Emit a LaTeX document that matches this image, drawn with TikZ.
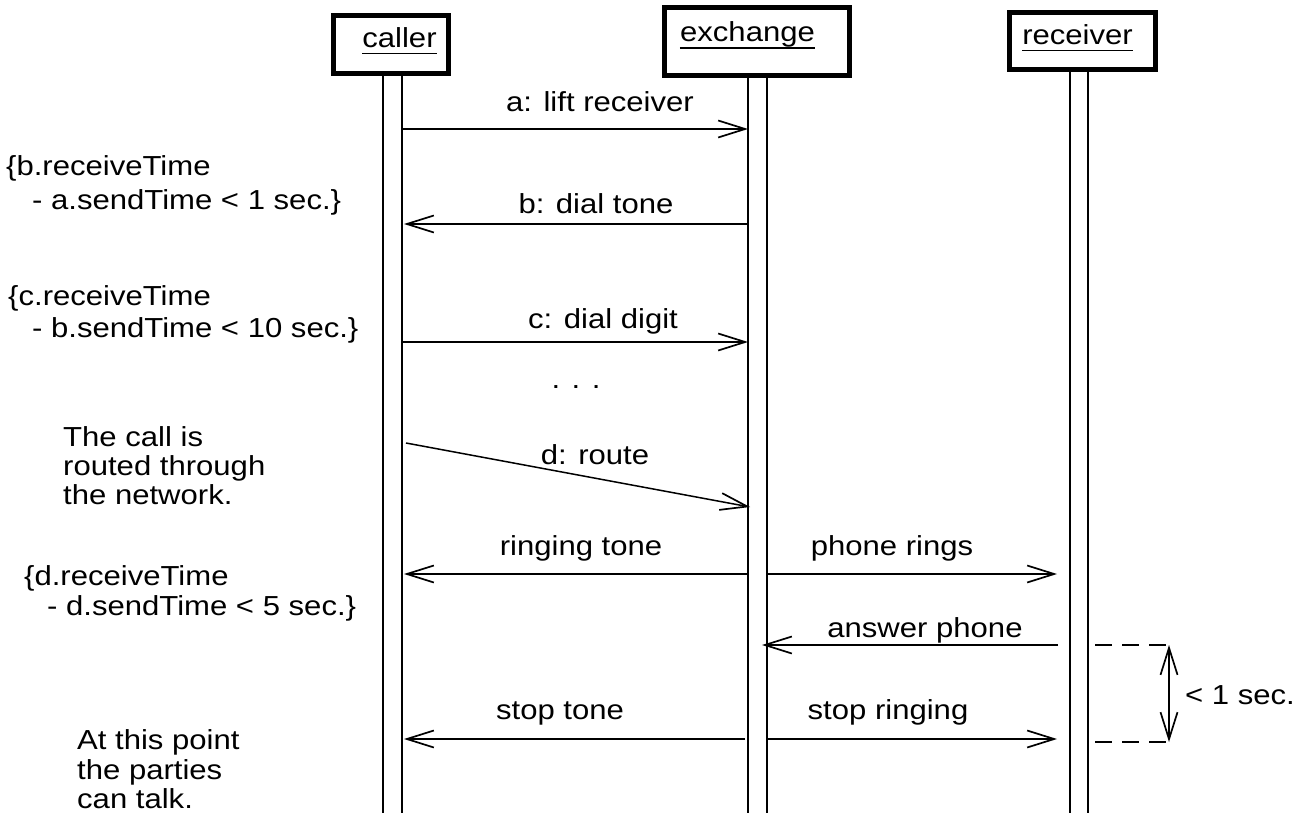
\documentclass[tikz,border=0pt]{standalone}
\usepackage{fontspec}
\setmainfont{Liberation Sans}[FakeStretch=1.13]
\usetikzlibrary{arrows.meta}
\begin{document}
\begin{tikzpicture}[x=1pt,y=-1pt,
  every node/.style={inner sep=0pt, font=\fontsize{27.5}{30}\selectfont},
  objbox/.style={draw, line width=5pt, inner sep=0pt},
  life/.style={line width=2.8pt},
  barb/.tip={Straight Barb[length=27pt,width=17pt,line width=1.7pt]},
  msg/.style={line width=2.4pt, -barb},
  lbl/.style={anchor=base},
  note/.style={anchor=base west},
  dashline/.style={line width=2pt, dash pattern=on 17pt off 10pt},
  uline/.style={line width=1.8pt}
]
\useasboundingbox (0,0) rectangle (1311,813);

% object boxes
\node[objbox, minimum width=115pt, minimum height=58pt] (callerbox) at (391,44.5) {};
\node[objbox, minimum width=185pt, minimum height=68pt] (exchbox) at (757,41.5) {};
\node[objbox, minimum width=146pt, minimum height=57pt] (recvbox) at (1082.5,41) {};

\node[lbl] (tcaller) at (399.5,48) {caller};
\node[lbl] (texch) at (747.5,42) {exchange};
\node[lbl] (trecv) at (1077.5,45) {receiver};
\draw[uline] ([yshift=-5.5pt]tcaller.base west) -- ([yshift=-5.5pt]tcaller.base east);
\draw[uline] ([yshift=-6pt]texch.base west) -- ([yshift=-6pt]texch.base east);
\draw[uline] ([yshift=-5.5pt]trecv.base west) -- ([yshift=-5.5pt]trecv.base east);

% lifelines
\coordinate (cL1) at (383,76);  \coordinate (cL2) at (383,813);
\coordinate (cR1) at (402,76);  \coordinate (cR2) at (402,813);
\coordinate (eL1) at (748,78);  \coordinate (eL2) at (748,813);
\coordinate (eR1) at (767,78);  \coordinate (eR2) at (767,813);
\coordinate (rL1) at (1070,72); \coordinate (rL2) at (1070,813);
\coordinate (rR1) at (1088,72); \coordinate (rR2) at (1088,813);
\draw[life] (cL1) -- (cL2);
\draw[life] (cR1) -- (cR2);
\draw[life] (eL1) -- (eL2);
\draw[life] (eR1) -- (eR2);
\draw[life] (rL1) -- (rL2);
\draw[life] (rR1) -- (rR2);

% messages
\coordinate (a1) at (403,129);  \coordinate (a2) at (748,129);
\draw[msg] (a1) -- (a2);
\node[lbl] (la) at (600,112) {a: lift receiver};

\coordinate (b1) at (747,224);  \coordinate (b2) at (404,224);
\draw[msg] (b1) -- (b2);
\node[lbl] (lb) at (596,214) {b: dial tone};

\coordinate (c1) at (403,342);  \coordinate (c2) at (748,342);
\draw[msg] (c1) -- (c2);
\node[lbl] (lc) at (603,328) {c: dial digit};

\node[lbl] (dots) at (576,388) {. . .};

\coordinate (d1) at (406,443);  \coordinate (d2) at (750,507);
\draw[msg, line width=1.5pt] (d1) -- (d2);
\node[lbl] (ld) at (595,464) {d: route};

\coordinate (r1) at (747,574);  \coordinate (r2) at (404,574);
\draw[msg] (r1) -- (r2);
\node[lbl] (lr) at (581,555) {ringing tone};

\coordinate (p1) at (767,574);  \coordinate (p2) at (1057,574);
\draw[msg] (p1) -- (p2);
\node[lbl] (lp) at (892,555) {phone rings};

\coordinate (q1) at (1058,645); \coordinate (q2) at (762,645);
\draw[msg] (q1) -- (q2);
\node[lbl] (lq) at (925,637) {answer phone};

\coordinate (s1) at (745,739);  \coordinate (s2) at (404,739);
\draw[msg] (s1) -- (s2);
\node[lbl] (ls) at (560,719) {stop tone};

\coordinate (u1) at (767,739);  \coordinate (u2) at (1057,739);
\draw[msg] (u1) -- (u2);
\node[lbl] (lu) at (888,719) {stop ringing};

% timing constraint
\coordinate (k1) at (1095,645); \coordinate (k2) at (1169,645);
\coordinate (k3) at (1095,742); \coordinate (k4) at (1169,742);
\draw[dashline] (k1) -- (k2);
\draw[dashline] (k3) -- (k4);
\draw[line width=2pt, barb-barb] (k2) -- (k4);
\node[note] (lk) at (1185,704) {< 1 sec.};

% notes
\node[note] (n1a) at (6,176) {\{b.receiveTime};
\node[note] (n1b) at (32,210) {- a.sendTime < 1 sec.\}};
\node[note] (n2a) at (8,305) {\{c.receiveTime};
\node[note] (n2b) at (32,337) {- b.sendTime < 10 sec.\}};
\node[note] (n3a) at (63,446) {The call is};
\node[note] (n3b) at (63,475) {routed through};
\node[note] (n3c) at (63,504) {the network.};
\node[note] (n4a) at (24,585) {\{d.receiveTime};
\node[note] (n4b) at (47,615) {- d.sendTime < 5 sec.\}};
\node[note] (n5a) at (77,749) {At this point};
\node[note] (n5b) at (77,779) {the parties};
\node[note] (n5c) at (77,808) {can talk.};
\end{tikzpicture}
\end{document}
